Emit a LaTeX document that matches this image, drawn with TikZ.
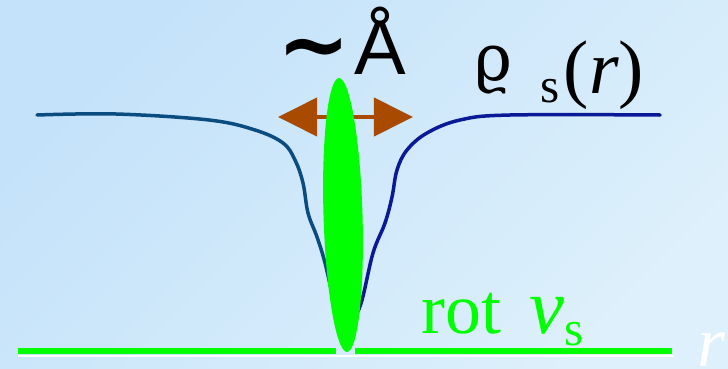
\documentclass[tikz,border=0pt]{standalone}
\usepackage{fontspec}
\setmainfont{Liberation Serif}[ItalicFont={Liberation Serif Italic}]
\newfontfamily\labelsans{Liberation Sans}
\newfontfamily\labelgreek{DejaVu Serif}
\newfontfamily\labelsym{DejaVu Sans}
\usetikzlibrary{arrows.meta}
\definecolor{VXBackTop}{HTML}{C4E2FA}
\definecolor{VXBackLow}{HTML}{DDF0FB}
\definecolor{VXGreen}{HTML}{00FF00}
\definecolor{VXBrown}{HTML}{A84A00}
\definecolor{VXTeal}{HTML}{0B4C80}
\definecolor{VXNavy}{HTML}{0A1A96}

\begin{document}
\begin{tikzpicture}[x=0.025cm,y=-0.025cm,
  densityline/.style={line width=0.0875cm,line cap=round},
  bigtext/.style={inner sep=0pt,font=\fontsize{51}{51}\selectfont}]
\useasboundingbox (0,0) rectangle (728,368);
\shade[top color=VXBackTop,bottom color=VXBackLow,shading angle=45] (0,0) rectangle (728,368);
\draw[white,line width=0.05cm] (18,355.5) -- (674,355.5);
\draw[VXGreen,line width=0.15cm] (18,351) -- (336,351);
\draw[VXGreen,line width=0.15cm] (355,351) -- (672,351);
\draw[VXTeal,densityline] plot[smooth,tension=0.6] coordinates {(37,115) (116,114) (209,120) (255,130) (283,143) (295,160) (303,183) (308,213) (317,237) (325,263) (336,310) (343,330)};
\draw[VXNavy,densityline] plot[smooth,tension=0.6] coordinates {(343,330) (354,318) (362,300) (373,253) (385,223) (392,197) (397,170) (407,150) (427,133) (460,120) (510,115) (660,115)};
\coordinate (coreL) at (278,117);
\coordinate (coreR) at (413,117);
\draw[VXBrown,line width=0.1cm,{Triangle[length=0.975cm,width=0.95cm]}-{Triangle[length=0.975cm,width=0.95cm]}] (coreL) -- (coreR);
\fill[VXGreen,rotate around={1.7:(343,215)}] (343,215) ellipse [x radius=19.5,y radius=137];
\node[anchor=base,inner sep=0pt,font=\labelsans\fontsize{55}{55}\selectfont] (size) at (342,74) {{\labelsym\bfseries\fontsize{62}{62}\selectfont ∼}\hspace{3pt}Å};
\node[bigtext,anchor=base west,font=\fontsize{54}{54}\selectfont] (density) at (474,93) {\raisebox{9.2pt}{\labelgreek\fontsize{46}{46}\selectfont ϱ}\hspace{20pt}\raisebox{-7.1pt}{\fontsize{35}{35}\selectfont s}\hspace{3pt}(\textit{r})};
\node[bigtext,anchor=base west,text=VXGreen] (curl) at (421,333) {rot\hspace{20pt}{\fontsize{56}{56}\selectfont\textit{v}}\raisebox{-9pt}{\fontsize{35}{35}\selectfont s}};
\node[bigtext,anchor=base west,text=white] (axis) at (697,366) {\textit{r}};
\end{tikzpicture}
\end{document}
